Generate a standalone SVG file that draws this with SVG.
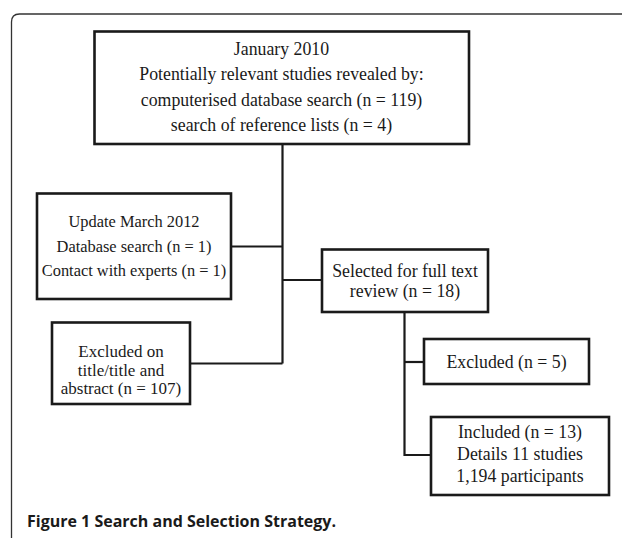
<svg xmlns="http://www.w3.org/2000/svg" width="622" height="538" viewBox="0 0 622 538">
<style>
.box{fill:#fff;stroke:#1a1a1a;stroke-width:2.6}
.t{font-family:"Liberation Serif","Times New Roman",serif;font-size:17.8px;fill:#1a1a1a;text-anchor:middle}
.s{font-size:16.4px}
.e{font-size:17px}
.c{fill:none;stroke:#1a1a1a;stroke-width:2.2}
.cap{font-family:"Open Sans","DejaVu Sans",sans-serif;font-weight:bold;font-size:16px;fill:#1a1a1a}
</style>
<rect width="622" height="538" fill="#fff"/>
<path d="M11.5 538 V22 Q11.5 14 19.5 14 H622" fill="none" stroke="#333" stroke-width="1.3"/>
<g id="connectors">
<path class="c" d="M282.5 144 V363.5"/>
<path class="c" d="M231 246.5 H282.5"/>
<path class="c" d="M282.5 280 H322"/>
<path class="c" d="M190 363.5 H282.5"/>
<path class="c" d="M404.5 312 V455 H431"/>
<path class="c" d="M404.5 362 H424"/>
</g>
<g id="n-top">
<rect class="box" x="94.5" y="31.5" width="374.5" height="112.5"/>
<text class="t" x="281.5" y="55">January 2010</text>
<text class="t" x="281.5" y="80">Potentially relevant studies revealed by:</text>
<text class="t" x="281.5" y="105.5">computerised database search (n = 119)</text>
<text class="t" x="281.5" y="131">search of reference lists (n = 4)</text>
</g>
<g id="n-update">
<rect class="box" x="37" y="193.5" width="194" height="105.5"/>
<text class="t s" x="134" y="227.3">Update March 2012</text>
<text class="t s" x="134" y="251.7">Database search (n = 1)</text>
<text class="t s" x="134" y="275.7">Contact with experts (n = 1)</text>
</g>
<g id="n-selected">
<rect class="box" x="322" y="249.5" width="166" height="62.5"/>
<text class="t" x="405" y="277.3">Selected for full text</text>
<text class="t" x="405" y="296.8">review (n = 18)</text>
</g>
<g id="n-excl1">
<rect class="box" x="52" y="322.5" width="138" height="81.5"/>
<text class="t e" x="121" y="357">Excluded on</text>
<text class="t e" x="121" y="375.5">title/title and</text>
<text class="t e" x="121" y="394">abstract (n = 107)</text>
</g>
<g id="n-excl2">
<rect class="box" x="424" y="339" width="165" height="45"/>
<text class="t" x="506.5" y="368">Excluded (n = 5)</text>
</g>
<g id="n-incl">
<rect class="box" x="431" y="417" width="178" height="78"/>
<text class="t" x="520" y="437.5">Included (n = 13)</text>
<text class="t" x="520" y="459.5">Details 11 studies</text>
<text class="t" x="520" y="482">1,194 participants</text>
</g>
<text class="cap" x="27" y="526.5">Figure 1 Search and Selection Strategy.</text>
</svg>
